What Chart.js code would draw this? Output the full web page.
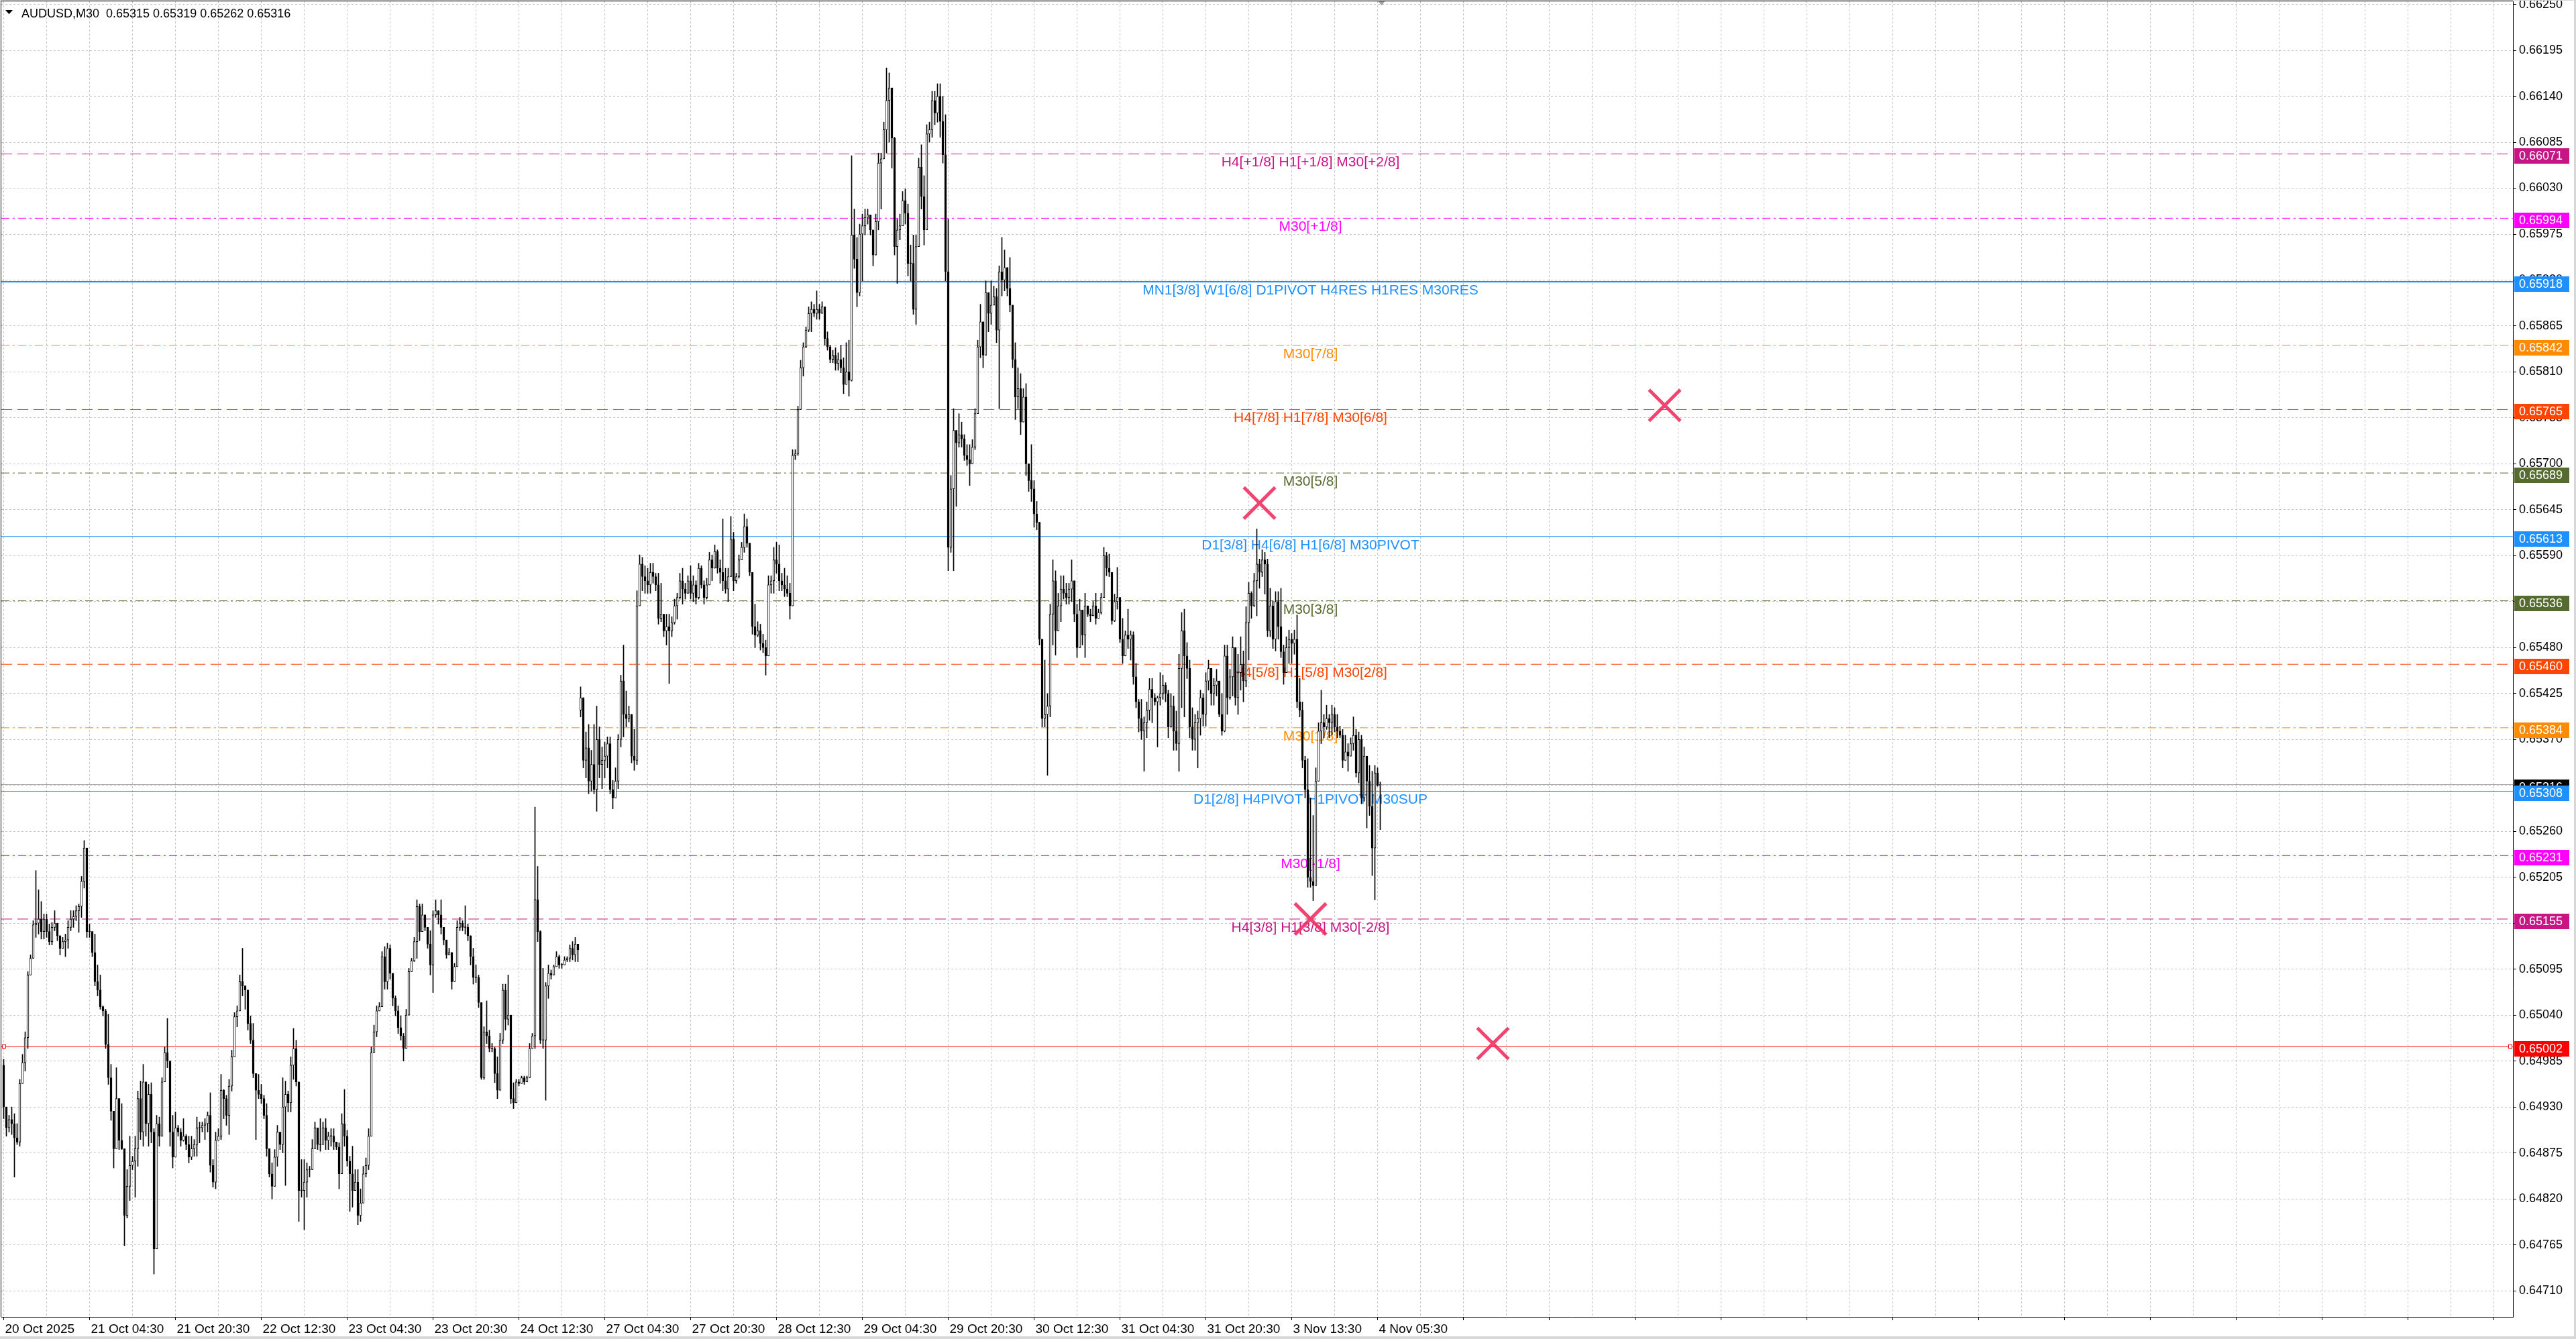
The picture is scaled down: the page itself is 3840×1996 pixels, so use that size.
<!DOCTYPE html>
<html>
<head>
<meta charset="utf-8">
<title>AUDUSD,M30</title>
<script src="https://cdn.jsdelivr.net/npm/chart.js@4.4.1/dist/chart.umd.min.js"></script>
<style>
  html, body { margin: 0; padding: 0; background: #fff; }
  canvas { display: block; }
</style>
</head>
<body>
<canvas id="chart" width="3840" height="1996" style="width:3840px;height:1996px"></canvas>
<script>
// ---- data (prices in points, 1 point = 0.00001) ----
const symbol = 'AUDUSD,M30';

const timeLabels = ['20 Oct 2025', '21 Oct 04:30', '21 Oct 20:30', '22 Oct 12:30', '23 Oct 04:30',
  '23 Oct 20:30', '24 Oct 12:30', '27 Oct 04:30', '27 Oct 20:30', '28 Oct 12:30', '29 Oct 04:30',
  '29 Oct 20:30', '30 Oct 12:30', '31 Oct 04:30', '31 Oct 20:30', '3 Nov 13:30', '4 Nov 05:30'];

const priceTicks = [0.66250, 0.66195, 0.66140, 0.66085, 0.66030, 0.65975, 0.65920, 0.65865, 0.65810,
  0.65755, 0.65700, 0.65645, 0.65590, 0.65535, 0.65480, 0.65425, 0.65370, 0.65315, 0.65260, 0.65205,
  0.65150, 0.65095, 0.65040, 0.64985, 0.64930, 0.64875, 0.64820, 0.64765, 0.64710];

const firstOpen = 64980;
const gapBar = 215;      // Monday open after the weekend
const gapOpen = 65405;

const highs = [
  64987,64926,64920,64930,64922,64910,64963,64993,65020,65092, // 0
  65112,65153,65213,65190,65176,65161,65161,65149,65151,65165,
  65145,65135,65133,65137,65153,65165,65165,65171,65173,65206,
  65249,65239,65149,65137,65137,65100,65088,65051,65047,65041,
  64981,64924,64977,64934,64934,64879,64855,64895,64871,64895,
  64949,64961,64981,64928,64957,64959,64904,64920,64918,64965, // 50
  65002,65036,64977,64920,64924,64908,64904,64916,64897,64895,
  64895,64891,64918,64912,64912,64916,64924,64947,64867,64900,
  64904,64969,64951,64944,64963,64998,65043,65051,65088,65120,
  65075,65047,65039,65030,64969,64969,64957,64944,64934,64871,
  64863,64879,64908,64891,64965,64961,64949,64990,65024,65010, // 100
  64951,64867,64867,64863,64859,64891,64912,64900,64916,64912,
  64916,64900,64904,64904,64887,64887,64922,64951,64902,64871,
  64883,64855,64855,64832,64859,64869,64904,65002,65028,65051,
  65055,65116,65122,65126,65124,65088,65063,65051,65039,65018,
  65047,65096,65108,65133,65178,65173,65173,65149,65141,65141, // 150
  65165,65178,65165,65178,65141,65122,65120,65100,65102,65153,
  65157,65153,65171,65149,65135,65120,65100,65088,65051,65026,
  65057,65022,65006,65002,64990,65018,65077,65077,65088,65028,
  64959,64963,64963,64967,64967,64967,65006,65018,65289,65218,
  65141,65096,65079,65100,65094,65100,65116,65112,65102,65110, // 200
  65110,65124,65128,65133,65124,65433,65419,65379,65388,65357,
  65388,65410,65385,65361,65367,65373,65373,65321,65336,65376,
  65447,65483,65428,65410,65391,65382,65548,65591,65588,65578,
  65575,65581,65581,65569,65569,65557,65514,65520,65520,65517,
  65538,65545,65569,65575,65557,65566,65578,65566,65560,65581, // 250
  65578,65560,65563,65594,65591,65603,65597,65585,65634,65575,
  65575,65637,65618,65569,65591,65606,65640,65634,65600,65566,
  65532,65511,65508,65496,65489,65566,65566,65600,65606,65603,
  65569,65575,65566,65557,65717,65717,65769,65824,65845,65864,
  65888,65894,65891,65907,65891,65894,65885,65858,65842,65836, // 300
  65839,65833,65842,65827,65845,65848,66069,66005,65971,65987,
  65999,66005,66005,65990,65974,65999,66072,66072,66109,66174,
  66168,66121,66091,65993,65999,66026,66029,66011,65962,65974,
  65974,66066,66082,66045,66106,66109,66146,66146,66155,66155,
  66140,66118,65993,65686,65766,65729,65760,65750,65735,65723, // 350
  65723,65729,65766,65848,65891,65864,65919,65894,65919,65913,
  65910,65937,65971,65956,65931,65947,65888,65845,65815,65808,
  65790,65796,65692,65723,65680,65655,65624,65483,65465,65425,
  65532,65585,65572,65545,65566,65566,65557,65557,65585,65554,
  65532,65538,65517,65545,65529,65526,65535,65545,65526,65545, // 400
  65600,65594,65592,65565,65544,65576,65536,65515,65500,65526,
  65500,65499,65461,65418,65418,65397,65415,65443,65443,65425,
  65422,65450,65447,65438,65429,65425,65422,65404,65472,65522,
  65526,65486,65465,65408,65400,65404,65429,65425,65450,65465,
  65447,65443,65454,65429,65425,65483,65483,65454,65493,65472, // 450
  65472,65493,65476,65529,65558,65547,65569,65622,65586,65597,
  65594,65586,65551,65536,65547,65547,65551,65483,65493,65501,
  65497,65501,65519,65443,65415,65350,65347,65300,65279,65336,
  65390,65429,65400,65411,65400,65411,65408,65400,65386,65382,
  65375,65365,65372,65397,65382,65379,65375,65361,65343,65339, // 500
  65332,65339,65336,65319
];

const lows = [
  64916,64895,64900,64897,64846,64885,64883,64973,64973,65000, // 0
  65088,65112,65133,65137,65131,65131,65133,65124,65124,65141,
  65129,65112,65120,65110,65120,65141,65145,65153,65139,65157,
  65192,65133,65133,65110,65075,65063,65047,65039,65000,64957,
  64914,64857,64912,64879,64879,64764,64797,64818,64855,64822,
  64859,64891,64883,64895,64883,64887,64730,64764,64883,64906, // 50
  64963,64977,64883,64857,64871,64895,64883,64889,64879,64863,
  64867,64871,64871,64887,64900,64891,64900,64852,64834,64832,
  64891,64891,64916,64908,64897,64949,64994,65026,65045,65063,
  65047,65022,65006,64965,64891,64940,64934,64916,64871,64846,
  64820,64842,64859,64879,64875,64836,64924,64924,64963,64955, // 100
  64793,64822,64783,64822,64846,64859,64883,64879,64877,64891,
  64879,64879,64883,64879,64879,64832,64863,64883,64859,64805,
  64810,64830,64789,64793,64832,64846,64855,64897,65002,65014,
  65047,65051,65071,65071,65083,65051,65039,65018,65010,64985,
  65010,65047,65092,65104,65108,65129,65141,65141,65120,65088, // 150
  65067,65157,65149,65137,65124,65108,65112,65071,65088,65104,
  65141,65141,65137,65129,65100,65077,65079,65049,64963,64963,
  65006,64996,64996,64959,64940,64981,65006,65022,65028,64934,
  64928,64957,64955,64961,64957,64963,64965,65006,65000,65128,
  65006,65000,64938,65060,65083,65092,65100,65096,65096,65100, // 200
  65104,65104,65106,65104,65104,65397,65336,65324,65305,65308,
  65305,65284,65324,65311,65324,65336,65305,65287,65305,65311,
  65361,65373,65385,65391,65342,65333,65340,65545,65548,65545,
  65545,65545,65557,65548,65508,65511,65493,65483,65437,65493,
  65508,65514,65538,65532,65538,65545,65538,65535,65532,65538, // 250
  65551,65532,65538,65557,65560,65575,65569,65557,65548,65545,
  65535,65566,65548,65557,65563,65594,65594,65600,65566,65496,
  65480,65493,65477,65474,65447,65470,65545,65545,65569,65548,
  65548,65541,65541,65514,65530,65705,65710,65766,65805,65839,
  65858,65858,65876,65873,65873,65881,65842,65836,65821,65821, // 300
  65812,65812,65809,65784,65799,65781,65799,65934,65888,65901,
  65919,65974,65987,65974,65937,65956,65980,66005,66066,66072,
  66085,66054,65950,65916,65968,65993,65987,65925,65919,65879,
  65867,65962,66005,65962,65980,66085,66091,66106,66109,66091,
  66060,65919,65572,65594,65572,65649,65720,65720,65704,65698, // 350
  65674,65710,65717,65760,65827,65815,65851,65858,65867,65894,
  65845,65766,65901,65907,65901,65882,65815,65753,65766,65735,
  65772,65686,65667,65655,65624,65621,65483,65385,65385,65327,
  65397,65483,65471,65500,65511,65538,65532,65532,65535,65511,
  65468,65483,65483,65468,65517,65511,65518,65508,65515,65520, // 400
  65540,65566,65565,65508,65511,65526,65486,65461,65476,65479,
  65465,65436,65408,65379,65370,65332,65372,65393,65390,65411,
  65361,65411,65418,65415,65372,65390,65357,65357,65332,65408,
  65397,65443,65372,65357,65357,65336,65375,65386,65386,65429,
  65411,65411,65422,65397,65375,65379,65400,65418,65422,65411, // 450
  65400,65429,65415,65433,65465,65515,65529,65518,65551,65565,
  65544,65493,65493,65479,65476,65490,65468,65436,65450,65461,
  65461,65472,65408,65397,65336,65300,65193,65193,65177,65195,
  65321,65365,65372,65382,65372,65375,65379,65372,65372,65336,
  65347,65332,65350,65357,65325,65318,65293,65296,65264,65279, // 500
  65207,65178,65314,65262
];

const closes = [
  64930,64905,64915,64910,64893,64888,64958,64983,65013,65088, // 0
  65108,65148,65150,65155,65140,65155,65140,65128,65145,65150,
  65135,65120,65128,65130,65145,65155,65158,65165,65170,65200,
  65240,65140,65140,65115,65080,65070,65050,65045,65005,64965,
  64925,64880,64940,64890,64880,64800,64835,64860,64865,64880,
  64940,64900,64960,64910,64945,64900,64760,64910,64895,64960, // 50
  64995,64985,64900,64870,64905,64900,64890,64895,64885,64870,
  64880,64885,64905,64905,64908,64910,64920,64860,64840,64890,
  64895,64950,64940,64920,64955,64990,65038,65045,65080,65075,
  65070,65030,65010,64970,64950,64945,64940,64920,64880,64850,
  64835,64870,64900,64885,64930,64945,64935,64980,65000,64960, // 100
  64830,64830,64840,64855,64855,64880,64905,64885,64885,64905,
  64890,64895,64895,64888,64882,64850,64910,64895,64865,64850,
  64830,64840,64800,64815,64850,64860,64895,64995,65020,65045,
  65050,65110,65080,65120,65090,65060,65045,65025,65015,65000,
  65040,65092,65105,65128,65170,65140,65160,65145,65125,65100, // 150
  65160,65165,65160,65145,65130,65112,65115,65080,65098,65145,
  65150,65145,65145,65135,65110,65085,65085,65055,64965,65020,
  65015,65000,65000,64970,64950,65010,65070,65035,65040,64940,
  64935,64960,64958,64965,64960,64965,65000,65015,65178,65140,
  65010,65010,65075,65090,65088,65098,65110,65100,65100,65106, // 200
  65108,65120,65112,65125,65118,65420,65345,65360,65320,65340,
  65310,65370,65340,65345,65350,65365,65310,65300,65320,65370,
  65440,65400,65395,65400,65350,65345,65530,65580,65565,65560,
  65555,65570,65565,65555,65515,65520,65500,65505,65500,65510,
  65530,65540,65560,65550,65545,65560,65545,65555,65540,65575, // 250
  65555,65540,65555,65585,65575,65595,65575,65570,65560,65550,
  65565,65610,65560,65565,65585,65600,65625,65605,65570,65505,
  65495,65500,65485,65480,65470,65555,65560,65585,65580,65560,
  65555,65550,65545,65530,65710,65712,65765,65815,65840,65860,
  65880,65885,65880,65885,65880,65888,65850,65840,65825,65830, // 300
  65820,65825,65815,65795,65810,65800,65974,65945,65905,65975,
  65985,65995,65998,65980,65950,65990,66060,66065,66100,66135,
  66150,66090,65960,65980,65985,66015,66000,65940,65940,65885,
  65960,66055,66020,65980,66095,66100,66135,66120,66140,66110,
  66070,65930,65600,65670,65740,65725,65735,65730,65710,65705, // 350
  65700,65720,65760,65840,65870,65830,65905,65880,65890,65900,
  65860,65930,65920,65935,65910,65890,65825,65780,65790,65750,
  65780,65700,65680,65670,65640,65630,65490,65395,65400,65410,
  65520,65560,65500,65530,65550,65545,65540,65550,65560,65520,
  65480,65525,65495,65530,65520,65518,65530,65515,65522,65540, // 400
  65590,65575,65570,65512,65535,65540,65490,65470,65495,65490,
  65495,65445,65415,65395,65380,65390,65405,65430,65420,65415,
  65420,65425,65435,65425,65385,65410,65380,65365,65455,65500,
  65470,65455,65385,65370,65390,65395,65420,65400,65440,65455,
  65425,65435,65440,65400,65380,65470,65420,65445,65480,65420, // 450
  65450,65460,65440,65510,65545,65530,65560,65580,65570,65585,
  65580,65500,65530,65490,65535,65505,65475,65450,65480,65490,
  65485,65490,65415,65405,65345,65310,65205,65200,65195,65320,
  65380,65390,65385,65395,65390,65400,65385,65380,65375,65345,
  65355,65350,65365,65375,65330,65370,65300,65350,65320,65290, // 500
  65240,65330,65315,65316
];

const levelPrices = [0.66071, 0.65994, 0.65918, 0.65842, 0.65765, 0.65689, 0.65613,
  0.65536, 0.65460, 0.65384, 0.65308, 0.65231, 0.65155];
const levelTexts = [
  'H4[+1/8] H1[+1/8] M30[+2/8]', 'M30[+1/8]', 'MN1[3/8] W1[6/8] D1PIVOT H4RES H1RES M30RES',
  'M30[7/8]', 'H4[7/8] H1[7/8] M30[6/8]', 'M30[5/8]', 'D1[3/8] H4[6/8] H1[6/8] M30PIVOT',
  'M30[3/8]', 'H4[5/8] H1[5/8] M30[2/8]', 'M30[1/8]', 'D1[2/8] H4PIVOT H1PIVOT M30SUP',
  'M30[-1/8]', 'H4[3/8] H1[3/8] M30[-2/8]'];
const levelKinds = ['ext', 'mag', 'main', 'orng', 'red', 'olive', 'pivot',
  'olive', 'red', 'orng', 'pivot', 'mag', 'ext'];

const stopPrice = 0.65002;

const crossBars = [468, 619, 487, 555];
const crossPrices = [0.65653, 0.65770, 0.65155, 0.65006];

// ---- styles / layout ----
const FONT = '"Liberation Sans", Arial, sans-serif';
Chart.defaults.font.family = FONT;

const LEVEL_STYLE = {
  ext:   { color: '#C71585', dash: [16, 8], width: 1 },
  mag:   { color: '#FF00FF', dash: [12, 5, 3, 5], width: 1 },
  main:  { color: '#1E90FF', dash: [], width: 2 },
  orng:  { color: '#FF8C00', dash: [12, 5, 3, 5], width: 1 },
  red:   { color: '#FF4500', dash: [16, 8], width: 1 },
  olive: { color: '#556B2F', dash: [12, 5, 3, 5], width: 1 },
  pivot: { color: '#1E90FF', dash: [], width: 1 }
};

const X_MIN = -0.875, X_MAX = 935.125;   // 4 px per bar
const Y_MIN = 0.646787, Y_MAX = 0.662537;
const LABEL_BAR = 487;

const P = v => v / 100000;
const n = closes.length;
const opens = closes.map((c, i) => i === 0 ? firstOpen : (i === gapBar ? gapOpen : closes[i - 1]));

const wickData = closes.map((c, i) => ({
  x: i,
  y: [P(Math.min(lows[i], opens[i], c)), P(Math.max(highs[i], opens[i], c))]
}));
const bodyData = closes.map((c, i) => {
  const lo = Math.min(opens[i], c), hi = Math.max(opens[i], c);
  return { x: i, y: [P(lo), P(hi === lo ? hi + 0.6 : hi)] };
});
const bodyFill = closes.map((c, i) => c > opens[i] ? '#ffffff' : '#000000');

const hLine = p => [{ x: X_MIN, y: p }, { x: X_MAX, y: p }];

const datasets = [];
levelPrices.forEach((p, k) => {
  const st = LEVEL_STYLE[levelKinds[k]];
  datasets.push({ type: 'line', data: hLine(p), borderColor: st.color, borderWidth: st.width,
    borderDash: st.dash, pointRadius: 0, order: 10 });
});
datasets.push({ type: 'line', data: hLine(stopPrice), borderColor: '#FF0000', borderWidth: 1,
  pointRadius: 0, order: 10 });
datasets.push({ type: 'line', data: hLine(P(closes[n - 1])), borderColor: '#a8a8a8', borderWidth: 1,
  pointRadius: 0, order: 9 });
datasets.push({ type: 'bar', data: wickData, backgroundColor: '#000', barThickness: 1,
  grouped: false, order: 5 });
datasets.push({ type: 'bar', data: bodyData, backgroundColor: bodyFill, borderColor: '#000',
  borderWidth: 1, borderSkipped: false, barThickness: 3, grouped: false, order: 4 });
datasets.push({ type: 'scatter', data: crossBars.map((b, k) => ({ x: b, y: crossPrices[k] })),
  pointStyle: 'crossRot', pointRadius: 33, borderWidth: 5, borderColor: 'rgba(240,48,96,0.9)',
  backgroundColor: 'rgba(240,48,96,0.9)', order: 1 });

const overlay = {
  id: 'overlay',
  beforeDraw(chart) {
    const ctx = chart.ctx;
    ctx.save();
    ctx.fillStyle = '#fff';
    ctx.fillRect(0, 0, chart.width, chart.height);
    ctx.restore();
  },
  beforeDatasetsDraw(chart) {
    const { ctx, scales: { x, y } } = chart;
    ctx.save();
    ctx.font = '21px ' + FONT;
    ctx.textAlign = 'center';
    ctx.textBaseline = 'alphabetic';
    const tx = x.getPixelForValue(LABEL_BAR);
    levelPrices.forEach((p, k) => {
      ctx.fillStyle = LEVEL_STYLE[levelKinds[k]].color;
      ctx.fillText(levelTexts[k], tx, y.getPixelForValue(p) + 19);
    });
    ctx.restore();
  },
  afterDraw(chart) {
    const { ctx, chartArea: a, scales: { x, y } } = chart;
    ctx.save();

    // chart frame (left / top)
    ctx.strokeStyle = '#000';
    ctx.lineWidth = 1;
    ctx.beginPath();
    ctx.moveTo(a.left - 0.5, a.bottom);
    ctx.lineTo(a.left - 0.5, a.top - 0.5);
    ctx.lineTo(a.right, a.top - 0.5);
    ctx.stroke();

    // end handles of the red line
    const sy = Math.round(y.getPixelForValue(stopPrice)) - 0.5;
    ctx.strokeStyle = '#FF0000';
    ctx.fillStyle = '#fff';
    [a.left + 4, a.right - 4].forEach(px => {
      ctx.fillRect(Math.round(px) - 2.5, sy - 2, 5, 5);
      ctx.strokeRect(Math.round(px) - 2.5, sy - 2, 5, 5);
    });

    // price boxes on the right axis
    ctx.font = '18px ' + FONT;
    ctx.textAlign = 'left';
    ctx.textBaseline = 'middle';
    const box = (price, color) => {
      const py = Math.round(y.getPixelForValue(price));
      ctx.fillStyle = color;
      ctx.fillRect(a.right + 2, py - 8, 82, 23);
      ctx.fillStyle = '#fff';
      ctx.fillText(price.toFixed(5), a.right + 9, py + 4);
    };
    box(P(closes[n - 1]), '#000000');
    levelPrices.forEach((p, k) => box(p, LEVEL_STYLE[levelKinds[k]].color));
    box(stopPrice, '#FF0000');

    // header
    ctx.fillStyle = '#000';
    ctx.beginPath();
    ctx.moveTo(8, 15); ctx.lineTo(19, 15); ctx.lineTo(13.5, 21); ctx.closePath();
    ctx.fill();
    const f = v => P(v).toFixed(5);
    ctx.textBaseline = 'alphabetic';
    ctx.fillText(symbol + '  ' + f(opens[n - 1]) + ' ' + f(highs[n - 1]) + ' ' +
      f(lows[n - 1]) + ' ' + f(closes[n - 1]), 32, 26);

    // chart shift marker
    const mx = x.getPixelForValue(n - 0.5);
    ctx.fillStyle = '#a0a0a0';
    ctx.beginPath();
    ctx.moveTo(mx - 5, 2); ctx.lineTo(mx + 5, 2); ctx.lineTo(mx, 8); ctx.closePath();
    ctx.fill();

    // window border
    ctx.fillStyle = '#d8d8d8';
    ctx.fillRect(0, 0, chart.width, 1);
    ctx.fillRect(chart.width - 3, 0, 3, chart.height);
    ctx.fillRect(0, chart.height - 4, chart.width, 4);
    ctx.restore();
  }
};

const gridBars = [];
for (let b = 0; b <= 928; b += 16) gridBars.push(b);

new Chart(document.getElementById('chart').getContext('2d'), {
  type: 'bar',
  data: { datasets },
  options: {
    responsive: false,
    animation: false,
    devicePixelRatio: 1,
    events: [],
    layout: { autoPadding: false, padding: { left: 2, top: 2, right: 0, bottom: 0 } },
    plugins: { legend: { display: false }, tooltip: { enabled: false } },
    scales: {
      x: {
        type: 'linear',
        position: 'bottom',
        min: X_MIN,
        max: X_MAX,
        offset: false,
        afterBuildTicks: s => { s.ticks = gridBars.map(v => ({ value: v })); },
        afterFit: s => { s.height = 33; s.paddingLeft = 0; s.paddingRight = 0; },
        ticks: {
          autoSkip: false,
          maxRotation: 0,
          align: 'start',
          labelOffset: 2,
          padding: 2,
          color: '#000',
          font: { size: 19 },
          callback: v => (v % 32 === 0 ? (timeLabels[v / 32] || '') : '')
        },
        grid: {
          offset: false,
          color: '#c4c4c4',
          tickLength: 5,
          tickColor: c => (c.tick && c.tick.value % 32 === 0 ? '#000' : 'rgba(0,0,0,0)')
        },
        border: { display: true, color: '#000', width: 1, dash: [3, 3] }
      },
      y: {
        type: 'linear',
        position: 'right',
        min: Y_MIN,
        max: Y_MAX,
        afterBuildTicks: s => { s.ticks = priceTicks.map(v => ({ value: v })); },
        afterFit: s => { s.width = 94; s.paddingTop = 0; s.paddingBottom = 0; },
        ticks: {
          autoSkip: false,
          padding: 4,
          color: '#000',
          font: { size: 18 },
          callback: v => Number(v).toFixed(5)
        },
        grid: { color: '#c4c4c4', tickLength: 5, tickColor: '#000' },
        border: { display: true, color: '#000', width: 1, dash: [3, 3] }
      }
    }
  },
  plugins: [overlay]
});
</script>
</body>
</html>
